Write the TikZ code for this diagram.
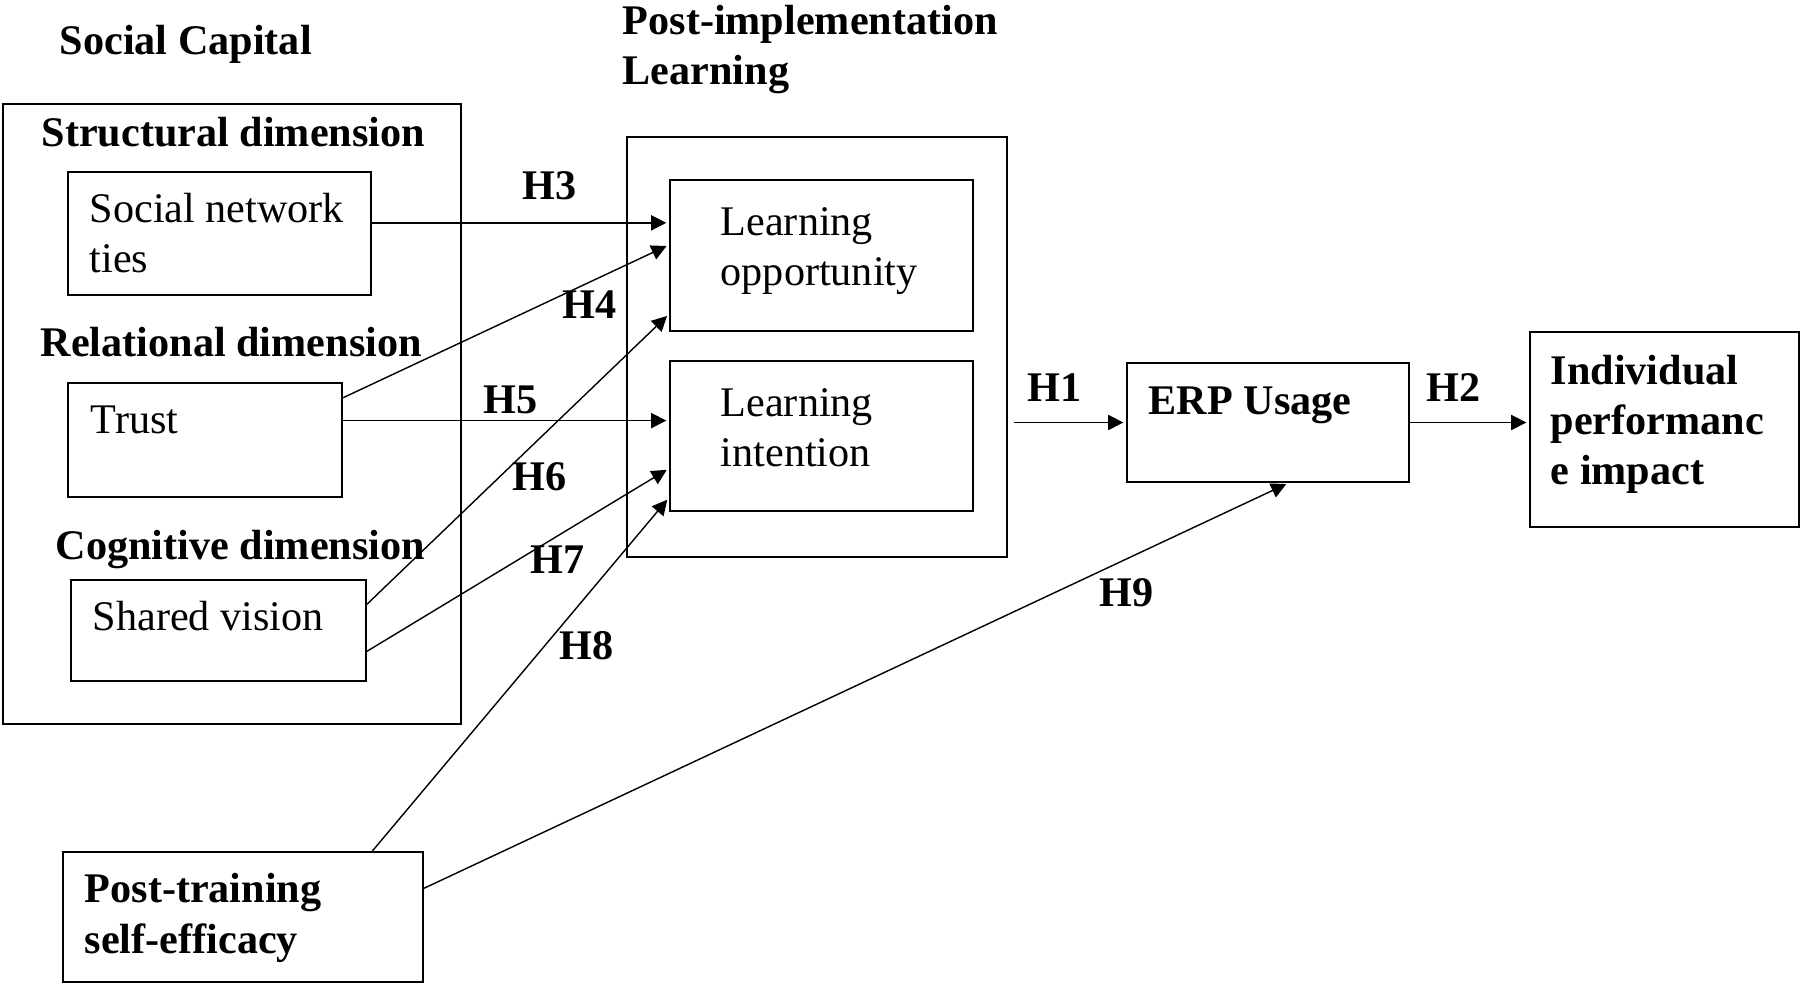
\documentclass[tikz,border=0pt]{standalone}
\usepackage{fontspec}
\setmainfont{Liberation Serif}
\usetikzlibrary{arrows.meta, positioning, calc, fit}

\begin{document}
\begin{tikzpicture}[
    % pixel-like units, y running downwards
    x=0.01cm, y=-0.01cm,
    box/.style={
        rectangle,
        draw=black,
        line width=0.5pt,
        inner sep=0pt
    },
    % base west = baseline of the last line
    plain/.style={
        anchor=base west,
        inner sep=0pt,
        align=left,
        font=\fontsize{12}{14.3}\selectfont
    },
    heading/.style={
        plain,
        font=\fontsize{12}{14.3}\selectfont\bfseries
    },
    hyp/.style={heading},
    arrow/.style={
        -{Triangle[length=4.3pt, width=4.3pt]},
        line width=0.4pt,
        draw=black,
        shorten >=0.8pt
    }
]
\useasboundingbox (0,0) rectangle (1803,983);

% --- Boxes ---
\node[box, fit={(3,104) (461,724)}] (social) {};
\node[box, fit={(68,172) (371,295)}] (ties) {};
\node[box, fit={(68,383) (342,497)}] (trust) {};
\node[box, fit={(71,580) (366,681)}] (vision) {};
\node[box, fit={(627,137) (1007,557)}] (learning) {};
\node[box, fit={(670,180) (973,331)}] (opport) {};
\node[box, fit={(670,361) (973,511)}] (intent) {};
\node[box, fit={(1127,363) (1409,482)}] (usage) {};
\node[box, fit={(1530,332) (1799,527)}] (impact) {};
\node[box, fit={(63,852) (423,982)}] (efficacy) {};

% --- Texts ---
\node[heading] (social-t) at (59,55) {Social Capital};
\node[heading] (learning-t) at (622,85) {Post-implementation\\Learning};
\node[heading] (struct-t) at (41,147) {Structural dimension};
\node[heading] (relat-t) at (40,357) {Relational dimension};
\node[heading] (cogn-t) at (55,560) {Cognitive dimension};
\node[plain] (ties-t) at (89,273) {Social network\\ties};
\node[plain] (trust-t) at (90,434) {Trust};
\node[plain] (vision-t) at (92,631) {Shared vision};
\node[plain] (opport-t) at (720,286) {Learning\\opportunity};
\node[plain] (intent-t) at (720,467) {Learning\\intention};
\node[heading] (usage-t) at (1148,415) {ERP Usage};
\node[heading] (impact-t) at (1550,485) {Individual\\performanc\\e impact};
\node[heading] (efficacy-t) at (84,953) {Post-training\\self-efficacy};

% --- Hypotheses ---
\node[hyp] (h1) at (1027,402) {H1};
\node[hyp] (h2) at (1426,402) {H2};
\node[hyp] (h3) at (522,200) {H3};
\node[hyp] (h4) at (562,319) {H4};
\node[hyp] (h5) at (483,414) {H5};
\node[hyp] (h6) at (512,491) {H6};
\node[hyp] (h7) at (530,574) {H7};
\node[hyp] (h8) at (559,660) {H8};
\node[hyp] (h9) at (1099,607) {H9};

% --- Connections ---
\draw[arrow] (ties.4.7) -- (ties.4.7 -| opport.west);
\draw[arrow] (trust.17.4) -- (opport.176.4);
\draw[arrow] (trust.8.3) -- (trust.8.3 -| intent.west);
\draw[arrow] (vision.10.6) -- (opport.201.1);
\draw[arrow] (vision.352.5) -- (intent.192.3);
\draw[arrow] (efficacy.27.1) -- (intent.202.9);
\draw[arrow] (efficacy.9.8) -- (usage.289.4);
\draw[arrow] ($(learning.east |- usage.west)+(6,0)$) -- (usage.west);
\draw[arrow] (usage.east) -- (usage.east -| impact.west);

\end{tikzpicture}
\end{document}
